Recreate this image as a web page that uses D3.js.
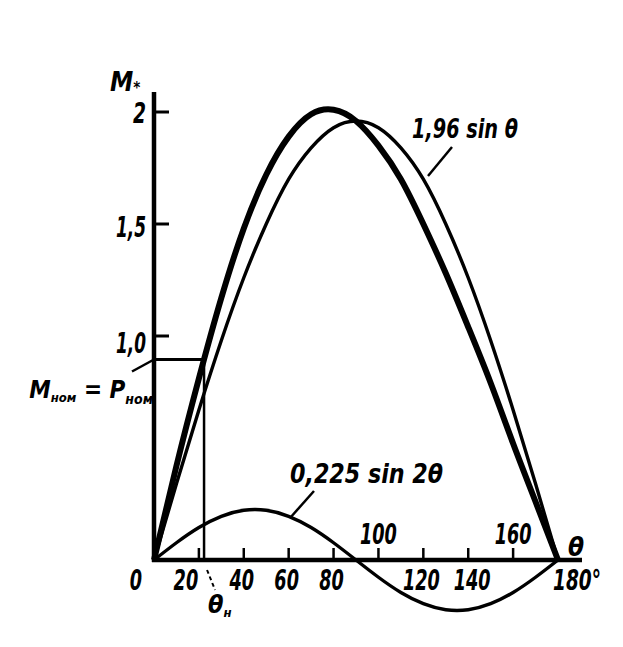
<!DOCTYPE html>
<html><head><meta charset="utf-8">
<script src="https://cdn.jsdelivr.net/npm/d3@7"></script>
<style>
html,body{margin:0;padding:0;background:#fff;}
text{font-family:"DejaVu Sans Condensed","DejaVu Sans",sans-serif;font-weight:bold;font-style:italic;fill:#000;}
</style></head>
<body><svg id="c" width="623" height="647"></svg>
<script>
// Angle samples (degrees)
const theta = [0,10,20,30,40,50,60,70,80,90,100,110,120,130,140,150,160,170,180];
// 1,96 sin θ (thin)
const m1 = [0,0.34,0.67,0.98,1.26,1.50,1.70,1.84,1.93,1.96,1.93,1.84,1.70,1.50,1.26,0.98,0.67,0.34,0];
// 0,225 sin 2θ (thin)
const m2 = [0,0.077,0.145,0.195,0.222,0.222,0.195,0.145,0.077,0,-0.077,-0.145,-0.195,-0.222,-0.222,-0.195,-0.145,-0.077,0];
// resulting moment (thick)
const mSum = [0,0.42,0.81,1.17,1.48,1.72,1.89,1.99,2.01,1.96,1.85,1.70,1.50,1.28,1.04,0.79,0.52,0.26,0];
const xTicks = [20,40,60,80,100,120,140,160];
const xLabelsBelow = ["0","20","40","60","80","120","140"];
const xLabelsAbove = ["100","160"];
const yTicks = [1.0,1.5,2];
const yLabels = ["1,0","1,5","2"];
const thetaN = 22.3, mNom = 0.895;

const svg = d3.select("#c");
const x = d3.scaleLinear().domain([0,180]).range([154,558]);
const y = d3.scaleLinear().domain([0,2]).range([560,112]);

const line = d3.line().x((d,i)=>x(theta[i])).y(d=>y(d)).curve(d3.curveNatural);

function fit(sel, perChar){
  sel.each(function(){
    const t = d3.select(this);
    const n = t.text().length;
    t.attr("textLength", n*perChar).attr("lengthAdjust","spacingAndGlyphs");
  });
  return sel;
}

// axes
svg.append("line").attr("x1",x(0)-2).attr("x2",582).attr("y1",y(0)).attr("y2",y(0)).attr("stroke","#000").attr("stroke-width",4.5);
svg.append("line").attr("x1",x(0)).attr("x2",x(0)).attr("y1",y(0)+2).attr("y2",92).attr("stroke","#000").attr("stroke-width",4.5);

// x ticks (upwards)
svg.selectAll(".xt").data(xTicks).enter().append("line")
  .attr("x1",d=>x(d)).attr("x2",d=>x(d)).attr("y1",y(0)).attr("y2",y(0)-12)
  .attr("stroke","#000").attr("stroke-width",2.5);
// y ticks (to the right)
svg.selectAll(".yt").data(yTicks).enter().append("line")
  .attr("x1",x(0)).attr("x2",x(0)+15).attr("y1",d=>y(d)).attr("y2",d=>y(d))
  .attr("stroke","#000").attr("stroke-width",3);

// curves
svg.append("path").attr("d",line(m2)).attr("fill","none").attr("stroke","#000").attr("stroke-width",3.4);
svg.append("path").attr("d",line(m1)).attr("fill","none").attr("stroke","#000").attr("stroke-width",3.4);
svg.append("path").attr("d",line(mSum)).attr("fill","none").attr("stroke","#000").attr("stroke-width",6);

// nominal point lines
svg.append("line").attr("x1",x(0)).attr("x2",x(thetaN)).attr("y1",y(mNom)).attr("y2",y(mNom)).attr("stroke","#000").attr("stroke-width",3);
svg.append("line").attr("x1",x(thetaN)).attr("x2",x(thetaN)).attr("y1",y(mNom)).attr("y2",y(0)).attr("stroke","#000").attr("stroke-width",2.5);
svg.append("line").attr("x1",x(thetaN)+3).attr("x2",x(thetaN)+11).attr("y1",y(0)+10).attr("y2",y(0)+30)
  .attr("stroke","#000").attr("stroke-width",2).attr("stroke-dasharray","4,3");
svg.append("line").attr("x1",x(0)).attr("x2",x(0)-22).attr("y1",y(mNom)).attr("y2",y(mNom)+12).attr("stroke","#000").attr("stroke-width",2.5);

// tick labels
const fs = 29;
fit(svg.selectAll(".xl").data(xLabelsBelow).enter().append("text")
  .attr("x",d=>x(+d)-(d==="20"?13:(d==="0"?18:(d==="140"?-4:2)))).attr("y",590).attr("text-anchor","middle")
  .attr("font-size",fs).text(d=>d), 12.3);
fit(svg.append("text").attr("x",553).attr("y",590).attr("font-size",fs).text("180°"), 12);
fit(svg.selectAll(".xa").data(xLabelsAbove).enter().append("text")
  .attr("x",d=>x(+d)).attr("y",544).attr("text-anchor","middle").attr("font-size",fs).text(d=>d), 12.3);
svg.append("text").attr("x",576).attr("y",556).attr("text-anchor","middle").attr("font-size",26).text("θ");

svg.selectAll(".yl").data(yLabels).enter().append("text")
  .attr("x",146).attr("y",(d,i)=>y(yTicks[i])+(i===0?17:(i===1?13:11))).attr("text-anchor","end")
  .attr("font-size",fs).attr("textLength",d=>d.length===1?13:30).attr("lengthAdjust","spacingAndGlyphs").text(d=>d);

// axis names
const my = svg.append("text").attr("x",110).attr("y",91).attr("font-size",26);
my.append("tspan").text("M");
my.append("tspan").attr("font-size",15).attr("dy",2).text("*");
const tn = svg.append("text").attr("x",208).attr("y",613).attr("font-size",25);
tn.append("tspan").text("θ");
tn.append("tspan").attr("font-size",13).attr("dy",4).text("н");

const nm = svg.append("text").attr("x",153).attr("y",398).attr("text-anchor","end").attr("font-size",24);
nm.append("tspan").text("M");
nm.append("tspan").attr("font-size",13).attr("dy",4).text("ном");
nm.append("tspan").attr("dy",-4).text(" = P");
nm.append("tspan").attr("font-size",14).attr("dy",6).text("ном");

// curve labels with leaders
svg.append("text").attr("x",412).attr("y",138).attr("font-size",27).attr("textLength",106).attr("lengthAdjust","spacingAndGlyphs").text("1,96 sin θ");
svg.append("line").attr("x1",452).attr("y1",147).attr("x2",428).attr("y2",176).attr("stroke","#000").attr("stroke-width",2.5);
svg.append("text").attr("x",290).attr("y",483).attr("font-size",27).attr("textLength",153).attr("lengthAdjust","spacingAndGlyphs").text("0,225 sin 2θ");
svg.append("line").attr("x1",314).attr("y1",491).attr("x2",290).attr("y2",518).attr("stroke","#000").attr("stroke-width",2.5);
</script></body></html>
